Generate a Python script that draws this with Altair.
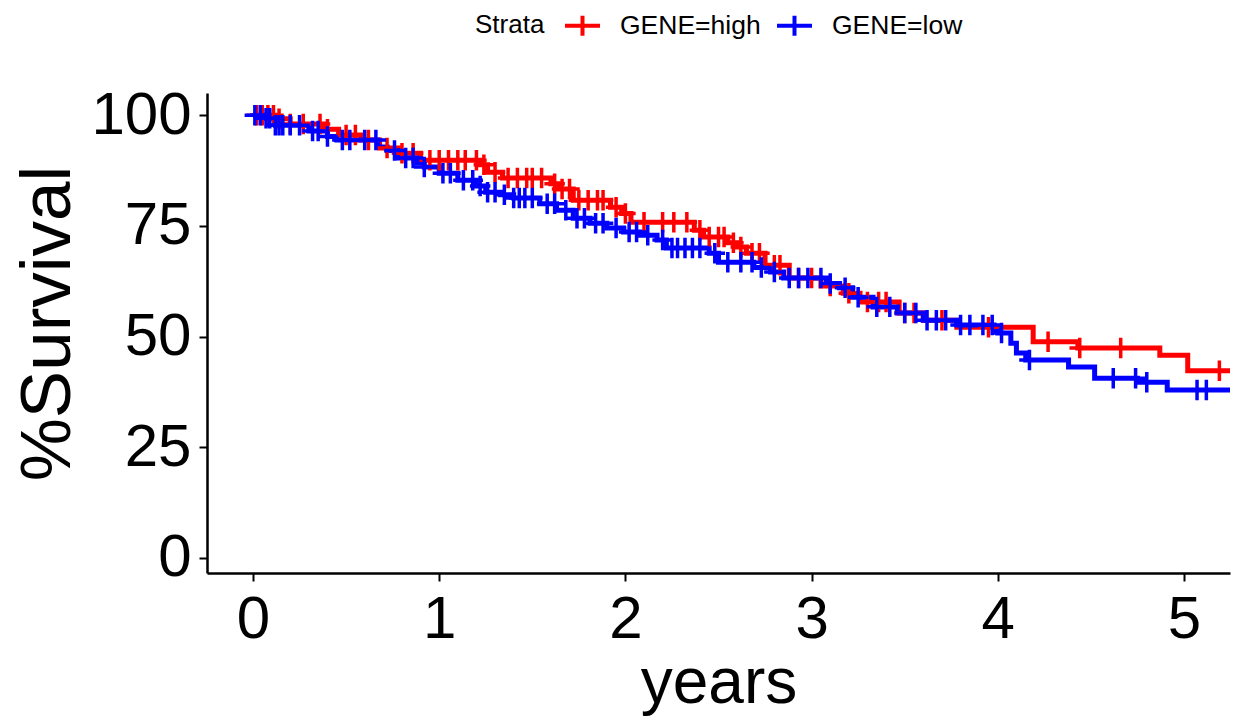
import altair as alt
import pandas as pd
import numpy as np

groups = ["GENE=high", "GENE=low"]
colors = ["#FF0000", "#0000FF"]

x_ticks = [0, 1, 2, 3, 4, 5]
y_ticks = [0, 25, 50, 75, 100]

# Kaplan-Meier step curves (time in years, % survival after each step)
high_time = [0.00, 0.12, 0.20, 0.38, 0.46, 0.58, 0.68, 0.78, 0.90, 1.22, 1.26, 1.34, 1.60, 1.64,
             1.72, 1.92, 1.98, 2.03, 2.37, 2.42, 2.55, 2.60, 2.65, 2.75, 2.88, 3.05, 3.17, 3.26,
             3.47, 3.60, 3.78, 4.19, 4.43, 4.87, 5.02]
high_surv = [100.0, 99.2, 98.0, 96.8, 95.5, 94.4, 92.6, 91.4, 89.8, 88.8, 87.1, 85.8, 84.5, 83.3,
             80.8, 79.2, 77.8, 75.8, 74.0, 72.5, 71.2, 70.2, 68.8, 66.1, 63.2, 61.4, 59.8, 57.8,
             55.3, 53.7, 52.1, 48.8, 47.4, 45.8, 42.3]

low_time = [0.00, 0.06, 0.12, 0.30, 0.40, 0.45, 0.67, 0.72, 0.78, 0.88, 0.92, 1.00, 1.10, 1.20,
            1.25, 1.33, 1.40, 1.54, 1.63, 1.72, 1.81, 1.90, 1.99, 2.08, 2.17, 2.22, 2.45, 2.50,
            2.69, 2.78, 2.85, 3.08, 3.15, 3.22, 3.33, 3.46, 3.60, 3.78, 3.98, 4.00, 4.07, 4.10,
            4.15, 4.38, 4.52, 4.75, 4.91]
low_surv = [100.0, 99.3, 97.7, 96.4, 95.2, 94.4, 92.8, 92.0, 90.3, 89.2, 88.3, 86.9, 85.3, 84.0,
            82.6, 82.0, 81.3, 80.0, 78.5, 76.7, 75.6, 74.5, 73.6, 72.9, 71.8, 70.0, 68.8, 66.8,
            65.6, 64.6, 63.2, 62.0, 61.0, 58.9, 56.7, 55.3, 53.7, 52.6, 51.5, 50.8, 48.5, 46.3,
            44.7, 43.1, 40.6, 39.7, 37.9]

# censoring times (marked with +)
high_censor = [0.02, 0.05, 0.08, 0.11, 0.14, 0.20, 0.27, 0.36, 0.40, 0.50, 0.55, 0.62, 0.72, 0.80,
               0.86, 0.95, 1.00, 1.05, 1.10, 1.14, 1.20, 1.24, 1.30, 1.37, 1.42, 1.47, 1.50, 1.55,
               1.62, 1.66, 1.70, 1.75, 1.80, 1.85, 1.88, 1.95, 2.00, 2.10, 2.20, 2.26, 2.33, 2.40,
               2.45, 2.50, 2.53, 2.58, 2.62, 2.68, 2.72, 2.80, 2.83, 2.93, 3.00, 3.10, 3.20, 3.30,
               3.36, 3.40, 3.50, 3.55, 3.70, 3.95, 4.27, 4.44, 4.66, 5.19]
low_censor = [0.01, 0.04, 0.07, 0.09, 0.12, 0.14, 0.16, 0.20, 0.25, 0.32, 0.35, 0.40, 0.48, 0.52,
              0.60, 0.66, 0.76, 0.82, 0.86, 0.92, 1.02, 1.06, 1.13, 1.18, 1.22, 1.26, 1.30, 1.35,
              1.40, 1.43, 1.46, 1.50, 1.58, 1.62, 1.68, 1.74, 1.78, 1.84, 1.88, 1.95, 2.02, 2.06,
              2.12, 2.20, 2.25, 2.28, 2.32, 2.36, 2.40, 2.48, 2.55, 2.62, 2.68, 2.73, 2.80, 2.88,
              2.93, 2.98, 3.05, 3.10, 3.18, 3.25, 3.35, 3.42, 3.50, 3.56, 3.62, 3.67, 3.72, 3.80,
              3.85, 3.92, 3.97, 4.02, 4.17, 4.62, 4.74, 4.80, 5.07, 5.12]

x_end = 5.4


def step_df(times, survs, name):
    return pd.DataFrame({"years": list(times) + [x_end],
                         "surv": list(survs) + [survs[-1]],
                         "strata": name})


def censor_df(times, survs, ctimes, name):
    idx = np.searchsorted(np.array(times), np.array(ctimes), side="right") - 1
    return pd.DataFrame({"years": ctimes, "surv": np.array(survs)[idx], "strata": name})


lines = pd.concat([step_df(high_time, high_surv, groups[0]),
                   step_df(low_time, low_surv, groups[1])], ignore_index=True)
cens = pd.concat([censor_df(high_time, high_surv, high_censor, groups[0]),
                  censor_df(low_time, low_surv, low_censor, groups[1])], ignore_index=True)

FONT = "Liberation Sans"
PLUS = "M-1,0L1,0M0,-1L0,1"
LEG_SYM = "M-1,0L1,0M0,-0.57L0,0.57"

xscale = alt.Scale(domain=[-0.247, 5.247], nice=False, zero=False)
yscale = alt.Scale(domain=[-3.4, 105], nice=False, zero=False)

color = alt.Color(
    "strata:N",
    scale=alt.Scale(domain=groups, range=colors),
    legend=alt.Legend(
        title="Strata", orient="none", legendX=268, legendY=-87,
        direction="horizontal", titleOrient="left",
        titleFont=FONT, titleFontSize=26, titleFontWeight="normal", titleColor="black",
        titlePadding=18,
        labelFont=FONT, labelFontSize=26.5, labelColor="black", labelOffset=18,
        symbolType=LEG_SYM, symbolSize=1225, symbolStrokeWidth=4,
        symbolFillColor="transparent", columnPadding=8,
    ),
)

x_enc = alt.X("years:Q", scale=xscale, title="years",
              axis=alt.Axis(values=x_ticks, format="d", labelFontSize=60, labelFont=FONT,
                            labelColor="black", titleFontSize=64, titleFont=FONT,
                            titleFontWeight="normal", titleColor="black",
                            titleBaseline="alphabetic", titleY=129,
                            tickSize=8, tickWidth=2, tickColor="black",
                            domainWidth=2.5, domainColor="black", labelPadding=9,
                            grid=False, labelFlush=False))
y_enc = alt.Y("surv:Q", scale=yscale, title="%Survival",
              axis=alt.Axis(values=y_ticks, format="d", labelFontSize=60, labelFont=FONT,
                            labelColor="black", titleFontSize=71, titleFont=FONT,
                            titleFontWeight="normal", titleColor="black",
                            titleBaseline="alphabetic", titleX=-138, titleY=230,
                            tickSize=8, tickWidth=2, tickColor="black",
                            domainWidth=2.5, domainColor="black", labelPadding=8,
                            grid=False, labelFlush=False))

line_layer = alt.Chart(lines).mark_line(interpolate="step-after", strokeWidth=5, clip=True).encode(
    x=x_enc, y=y_enc, color=color, order=alt.Order("years:Q"))

point_layer = alt.Chart(cens).mark_point(shape=PLUS, size=420, strokeWidth=3.5, filled=False,
                                         opacity=1, clip=True).encode(
    x="years:Q", y="surv:Q", color=alt.Color("strata:N"))

chart = alt.layer(line_layer, point_layer).properties(
    width=1023, height=480,
    background="white",
    autosize=alt.AutoSizeParams(type="none"),
    padding={"left": 207, "top": 93, "right": 6, "bottom": 143},
).configure_view(stroke=None, strokeWidth=0)

chart.save("out.html", embed_options={"renderer": "svg", "actions": False})
